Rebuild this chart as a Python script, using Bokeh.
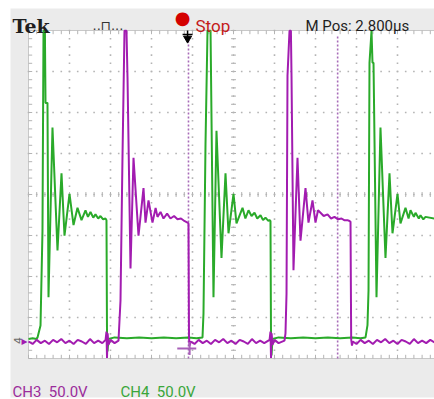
import math
from bokeh.plotting import figure
from bokeh.models import Range1d, Label
from bokeh.embed import file_html
from bokeh.resources import INLINE

# ---- data: time in screen divisions, voltage in volts (50 V/div); 379 V = top of screen ----
ch4_t = [0.0, 0.10, 0.195, 0.22, 0.293, 0.341, 0.366, 0.40, 0.415, 0.463, 0.488,
         0.585, 0.707, 0.805, 0.878, 1.0, 1.098, 1.195, 1.293, 1.39, 1.45, 1.512,
         1.58, 1.634, 1.70, 1.756, 1.82, 1.878, 1.902, 1.915, 1.927, 1.951,
         2.1, 2.4, 2.7, 3.0, 3.3, 3.6, 3.9, 4.1, 4.244,
         4.268, 4.317, 4.366, 4.44, 4.512, 4.585, 4.707, 4.805, 4.878, 5.0, 5.073,
         5.22, 5.29, 5.366, 5.44, 5.512, 5.58, 5.659, 5.72, 5.78, 5.85, 5.878,
         5.902, 5.915, 5.927, 5.951,
         6.1, 6.4, 6.7, 7.0, 7.3, 7.6, 7.9, 8.1, 8.22,
         8.268, 8.293, 8.317, 8.366, 8.39, 8.415, 8.488, 8.585, 8.707, 8.805, 8.878,
         9.0, 9.073, 9.195, 9.27, 9.317, 9.40, 9.439, 9.52, 9.561, 9.63, 9.683, 9.902]
ch4_v = [3, 4, 3, 5, 19.5, 135, 379, 379, 291, 291, 54,
         261, 111, 205, 129, 180, 142, 163, 148, 160, 152, 158,
         151, 155, 150, 153, 149, 150, 148, 5, -12, 3,
         5, 4, 5, 4, 5, 4, 5, 4, 5,
         34, 240, 379, 379, 54, 257, 102, 205, 132, 180, 144,
         163, 150, 160, 153, 157, 150, 154, 148, 151, 147, 148,
         147, 3, -17, 3,
         5, 4, 5, 4, 5, 4, 5, 4, 5,
         20, 62, 340, 379, 340, 340, 54, 261, 102, 205, 132,
         180, 144, 163, 150, 160, 152, 157, 150, 154, 149, 152, 150]

ch3_t = [0.0, 0.1, 0.2, 0.3, 0.4, 0.5, 0.6, 0.7, 0.8, 0.9, 1.0, 1.1, 1.2, 1.3,
         1.4, 1.5, 1.6, 1.7, 1.8, 1.88, 1.902, 1.915, 1.93, 1.95, 2.0, 2.1, 2.195,
         2.244, 2.293, 2.341, 2.39, 2.415, 2.488, 2.561, 2.683, 2.805, 2.854, 2.927,
         3.024, 3.10, 3.146, 3.22, 3.293, 3.38, 3.463, 3.55, 3.634, 3.72, 3.80,
         3.878, 3.902, 3.915, 3.93, 3.951,
         4.05, 4.15, 4.25, 4.35, 4.45, 4.55, 4.65, 4.75, 4.85, 4.95, 5.05, 5.15,
         5.25, 5.35, 5.45, 5.55, 5.65, 5.75, 5.88, 5.902, 5.915, 5.93, 5.95, 6.0,
         6.1, 6.244,
         6.268, 6.293, 6.317, 6.366, 6.40, 6.415, 6.463, 6.561, 6.634, 6.756, 6.829,
         6.927, 7.0, 7.061, 7.122, 7.2, 7.293, 7.38, 7.463, 7.55, 7.634, 7.70, 7.78,
         7.829, 7.854, 7.87, 7.89, 7.91,
         8.0, 8.1, 8.2, 8.3, 8.4, 8.5, 8.6, 8.7, 8.8, 8.9, 9.0, 9.1, 9.2, 9.3, 9.4,
         9.5, 9.6, 9.7, 9.8, 9.902]
ch3_v = [0, -3, 2, -2, 1, -3, 2, -1, 3, -2, 1, -3, 2, 0,
         -3, 3, -2, 1, -2, 2, 12, -20, 10, -4, 2, -2, 1,
         50, 227, 379, 379, 322, 89, 224, 129, 187, 145, 172,
         145, 163, 152, 158, 150, 156, 150, 153, 149, 150, 147,
         145, 144, 5, -5, 0,
         -3, 2, -2, 1, -3, 2, -1, 3, -2, 1, -3, 2,
         0, -3, 3, -2, 1, -2, 2, 12, -20, 10, -4, 2,
         -2, 1,
         10, 58, 324, 379, 379, 324, 87, 224, 123, 187, 145,
         172, 145, 160, 157, 153, 155, 150, 152, 149, 150, 148, 148,
         147, 146, 3, -5, 0,
         -3, 2, -2, 1, -3, 2, -1, 3, -2, 1, -3, 2, 0, -3, 3,
         -2, 1, -2, 2, -1]

cursor_t = [3.902, 7.54]
trigger_t = 3.88
header_texts = ["Tek", "..\u2293...", "\u25cf", "Stop", "M Pos: 2.800\u00b5s"]
footer_texts = ["CH3\u00a0 50.0V", "CH4\u00a0 50.0V"]

# ---- screen geometry helpers (image pixels -> data) ----
X0, DIV, GND = 28, 41, 341


def dx(X):
    return (X - X0) / DIV


def dy(Y):
    return (GND - Y) * 50 / DIV


y_lo, y_hi = dy(358), dy(30)
x_hi = dx(434)

p = figure(width=434, height=399, x_range=Range1d(dx(0), dx(434)), y_range=Range1d(dy(399), dy(0)),
           output_backend="svg", toolbar_location=None,
           min_border_left=0, min_border_right=0, min_border_top=0, min_border_bottom=0)
p.xaxis.visible = False
p.yaxis.visible = False
p.xgrid.visible = False
p.ygrid.visible = False
p.border_fill_color = "white"
p.background_fill_color = "white"
p.outline_line_color = None

# grey instrument panel and white screen area
p.quad(left=[dx(10)], right=[dx(440)], bottom=[dy(397)], top=[dy(8)], fill_color="#ebebeb", line_color=None)
p.quad(left=[0], right=[x_hi + 0.2], bottom=[y_lo], top=[y_hi], fill_color="white",
       line_color="#c8c8c8", line_width=1)

GRID = "#b4b4b4"
gx, gy = [], []
for k in range(1, 10):
    for j in range(0, 41):
        gx.append(k)
        gy.append(y_lo + 10 * j)
for m in range(1, 8):
    for i in range(0, 50):
        gx.append(0.2 * i)
        gy.append(y_lo + 50 * m)
p.scatter(gx, gy, marker="square", size=1.6, fill_color=GRID, line_color=None)

tx = [0.2 * i for i in range(50)]
p.segment(x0=tx, y0=[y_hi] * 50, x1=tx, y1=[y_hi - 4.5] * 50, line_color=GRID, line_width=1)
p.segment(x0=tx, y0=[y_lo] * 50, x1=tx, y1=[y_lo + 4.5] * 50, line_color=GRID, line_width=1)
ty = [y_lo + 10 * j for j in range(41)]
p.segment(x0=[0] * 41, y0=ty, x1=[0.09] * 41, y1=ty, line_color=GRID, line_width=1)
p.scatter([5] * 41, ty, marker="dash", size=5, line_color=GRID)
p.scatter(tx, [y_lo + 200] * 50, marker="dash", angle=math.pi / 2, size=5, line_color=GRID)

for c in cursor_t:
    p.segment(x0=[c], y0=[y_lo], x1=[c], y1=[dy(34)], line_color="#a86cb8",
              line_width=1.6, line_dash="2 2")

p.line(ch4_t, ch4_v, line_color="#2aaa2a", line_width=2)
p.line(ch3_t, ch3_v, line_color="#a21cb0", line_width=2)

p.segment(x0=[trigger_t], y0=[y_hi], x1=[trigger_t], y1=[dy(41)], line_color="black", line_width=1.5)
p.scatter([trigger_t], [dy(38)], marker="inverted_triangle", size=8, fill_color="black", line_color="black")
p.scatter([trigger_t], [dy(34)], marker="dash", size=10, line_color="black", line_width=1.5)
p.scatter([trigger_t - 0.02], [dy(348)], marker="dash", size=19, line_color="#a860b8", line_width=2)
p.scatter([trigger_t + 0.05], [dy(348)], marker="dash", angle=math.pi / 2, size=13,
          line_color="#a860b8", line_width=2)


def lab(text, X, Y, size, color, font="Roboto", style="normal", align="left", base="alphabetic", angle=0):
    p.add_layout(Label(x=dx(X), y=dy(Y), text=text, text_font=font, text_font_size=f"{size}px",
                       text_color=color, text_font_style=style, text_align=align,
                       text_baseline=base, angle=angle))


lab(header_texts[0], 12, 25, 19, "#1e1e1e", font="DejaVu Serif", style="bold")
lab(header_texts[1], 92, 25, 13, "#333333", font="DejaVu Sans")
lab(header_texts[2], 182, 17, 18, "#d40000", font="DejaVu Sans", align="center", base="middle")
lab(header_texts[3], 195, 25, 17, "#c41a1a")
lab(header_texts[4], 305, 25, 15, "#1e1e1e")
lab(footer_texts[0], 12, 391, 15, "#9b2d9b")
lab(footer_texts[1], 120, 391, 15, "#3aa63a")
lab("4", 17, 340, 11, "#6a6a6a", font="DejaVu Sans", align="center", base="middle", angle=math.pi / 2)
lab("\u25b8", 24, 340, 12, "#a21cb0", font="DejaVu Sans", align="center", base="middle")

open("out.html", "w").write(file_html(p, INLINE))
